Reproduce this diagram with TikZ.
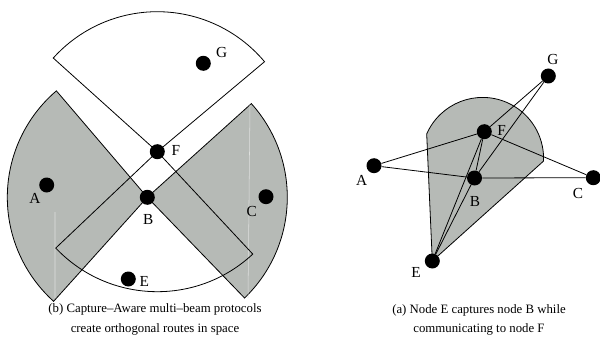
\documentclass[tikz,border=0pt]{standalone}
\usepackage{fontspec}
\setmainfont{Liberation Serif}
\usetikzlibrary{backgrounds}
\definecolor{beamgray}{RGB}{182,186,182}

\begin{document}
\begin{tikzpicture}[x=0.75pt, y=-0.75pt, dot/.style={circle, fill=black, inner sep=0pt, minimum size=11.25pt}, lbl/.style={inner sep=0pt, font=\fontsize{11.5}{12}\selectfont}, captxt/.style={align=center, font=\fontsize{9.6}{14.5}\selectfont}, beamline/.style={draw=black, line width=0.6pt}, link/.style={line width=0.6pt}]
\useasboundingbox (0,0) rectangle (600,360);
\node[dot] (Fl) at (157.3,151.7) {};
\node[dot] (Bl) at (147.3,197.3) {};
\node[dot] (Al) at (46.7,185) {};
\node[dot] (Cl) at (266,196.7) {};
\node[dot] (El) at (128.3,279) {};
\node[dot] (Gl) at (203.3,63.3) {};
\node[lbl] (lFl) at (176,150.7) {F};
\node[lbl] (lBl) at (148.3,220) {B};
\node[lbl] (lAl) at (35,198.3) {A};
\node[lbl] (lCl) at (251.7,211.7) {C};
\node[lbl] (lEl) at (144.3,281.7) {E};
\node[lbl] (lGl) at (221.7,52.3) {G};
\node[dot] (Fr) at (484.3,131.7) {};
\node[dot] (Br) at (474.5,178) {};
\node[dot] (Ar) at (374,165.7) {};
\node[dot] (Cr) at (593.3,177.7) {};
\node[dot] (Er) at (432.3,261) {};
\node[dot] (Gr) at (548.3,76) {};
\node[lbl] (lFr) at (501.7,130.7) {F};
\node[lbl] (lBr) at (475,202) {B};
\node[lbl] (lAr) at (361.7,180) {A};
\node[lbl] (lCr) at (578,193) {C};
\node[lbl] (lEr) at (416,272) {E};
\node[lbl] (lGr) at (553,59) {G};
\node[captxt] (capb) at (155,319.5) {(b) Capture–Aware multi–beam protocols\\create orthogonal routes in space};
\node[captxt] (capa) at (479,320) {(a) Node E captures node B while\\communicating to node F};
\begin{scope}[on background layer]
\filldraw[beamline, fill=beamgray] (Bl.center) -- ++(-130.5:140) arc[start angle=-130.5, end angle=-228, radius=140] -- cycle;
\filldraw[beamline, fill=beamgray] (Bl.center) -- ++(46:140) arc[start angle=46, end angle=-42, radius=140] -- cycle;
\draw[white!55!beamgray, line width=0.4pt] (55,212) -- (55,298) (250,105) -- (248,298);
\draw[beamline] (Fl.center) -- ++(-223.5:140) arc[start angle=-223.5, end angle=-313, radius=140] -- cycle;
\draw[beamline] (Fl.center) -- ++(-40:140) arc[start angle=-40, end angle=-138, radius=140] -- cycle;
\filldraw[beamline, fill=beamgray] (Er.center) -- (426.7,134) arc[start angle=-156.4, end angle=-4, radius=61] -- ++(0,7) -- cycle;
\draw[link] (Ar) -- (Fr); \draw[link] (Ar) -- (Br); \draw[link] (Fr) -- (Cr); \draw[link] (Br) -- (Cr);
\draw[link] (Gr) -- (Fr); \draw[link] (Gr) -- (Br); \draw[link] (Fr) -- (Br);
\draw[link] (Er) -- (Fr); \draw[link] (Er) -- (Br);
\end{scope}
\end{tikzpicture}
\end{document}
